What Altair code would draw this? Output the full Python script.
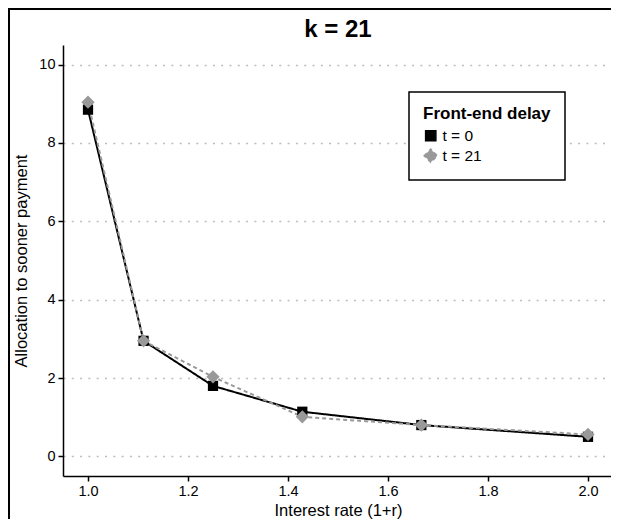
import altair as alt
import pandas as pd

# data
rates = [1.0, 1.1111, 1.25, 1.4286, 1.6667, 2.0]
alloc_t0 = [8.85, 2.95, 1.80, 1.14, 0.80, 0.50]
alloc_t21 = [9.04, 2.95, 2.03, 1.01, 0.80, 0.56]
series = ["t = 0", "t = 21"]
x_ticks = [1.0, 1.2, 1.4, 1.6, 1.8, 2.0]
y_ticks = [0, 2, 4, 6, 8, 10]
title_text = ["k = 21"]

df = pd.DataFrame({
    "rate": rates + rates,
    "alloc": alloc_t0 + alloc_t21,
    "delay": [series[0]] * len(rates) + [series[1]] * len(rates),
})

FONT = "Liberation Sans"
W, H = 550, 431
PAD_L, PAD_T, PAD_R, PAD_B = 55, 37, -2, 43

x = alt.X("rate:Q", title="Interest rate (1+r)",
          scale=alt.Scale(domain=[0.95, 2.05], nice=False, zero=False),
          axis=alt.Axis(values=x_ticks, format=".1f", grid=False))
y = alt.Y("alloc:Q", title="Allocation to sooner payment",
          scale=alt.Scale(domain=[-0.5, 10.5], nice=False, zero=False),
          axis=alt.Axis(values=y_ticks, grid=True, gridDash=[2, 6.3],
                        gridColor="#bdbdbd", gridWidth=1.4))

legend = alt.Legend(title="Front-end delay")
color = alt.Color("delay:N", scale=alt.Scale(domain=series, range=["#000000", "#999999"]),
                  legend=legend)
shape = alt.Shape("delay:N", scale=alt.Scale(domain=series, range=["square", "diamond"]),
                  legend=legend)
size = alt.Size("delay:N", scale=alt.Scale(domain=series, range=[105, 175]), legend=None)
dash = alt.StrokeDash("delay:N", scale=alt.Scale(domain=series, range=[[1, 0], [4, 3]]),
                      legend=None)

lines = alt.Chart(df).mark_line(strokeWidth=2).encode(x=x, y=y, color=color, strokeDash=dash,
                                                       order=alt.Order("rate:Q"))
points = alt.Chart(df).mark_point(filled=True, opacity=1).encode(
    x=x, y=y, color=color, shape=shape, size=size)

# figure frame (left and top edges), kept inside the drawing surface
deco = pd.DataFrame({"t": title_text})
frame_left = alt.Chart(deco).mark_rule(color="black", strokeWidth=2, clip=False).encode(
    x=alt.value(-PAD_L + 1), x2=alt.value(-PAD_L + 1),
    y=alt.value(-PAD_T), y2=alt.value(H + PAD_B))
frame_top = alt.Chart(deco).mark_rule(color="black", strokeWidth=2, clip=False).encode(
    x=alt.value(-PAD_L), x2=alt.value(W + PAD_R),
    y=alt.value(-PAD_T + 1), y2=alt.value(-PAD_T + 1))

title = alt.Chart(deco).mark_text(
    font=FONT, fontSize=24, fontWeight="bold", color="black", baseline="middle",
    align="center").encode(text="t:N", x=alt.value(W / 2), y=alt.value(-15))

chart = alt.layer(frame_left, frame_top, lines, points, title).properties(
    width=W, height=H,
    autosize=alt.AutoSizeParams(type="none"),
    padding={"left": PAD_L, "top": PAD_T, "right": PAD_R, "bottom": PAD_B},
).configure_view(stroke=None).configure_axis(
    labelFont=FONT, titleFont=FONT, labelFontSize=14.5, titleFontSize=16.5,
    labelColor="black", titleColor="black", titleFontWeight="normal",
    domainColor="black", domainWidth=1.5, tickColor="black", tickWidth=1.5, tickSize=5,
    labelPadding=3,
).configure_axisX(titlePadding=5).configure_axisY(titlePadding=9).configure_legend(
    orient="none", legendX=346, legendY=47,
    strokeColor="black", strokeWidth=1.5, fillColor="white", padding=14,
    titleFont=FONT, labelFont=FONT, titleFontSize=17, labelFontSize=15.5,
    titleFontWeight="bold", titleColor="black", labelColor="black",
    symbolSize=120, rowPadding=1, titlePadding=5,
)

chart.save("out.html", embed_options={"renderer": "svg", "actions": False})
